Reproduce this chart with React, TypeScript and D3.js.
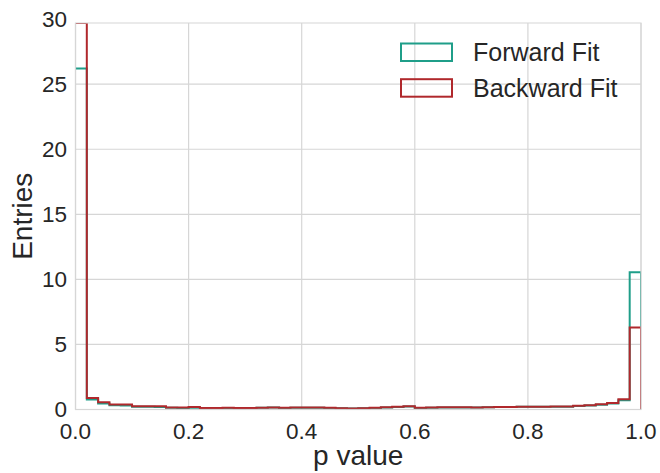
import React from "react";
import * as d3 from "d3";

// Histogram of fit p-values, 50 bins of width 0.02 over [0, 1]
const binEdges: number[] = Array.from({ length: 51 }, (_, i) => i / 50);

const forwardCounts: number[] = [
  26.2, 0.77, 0.46, 0.33, 0.3, 0.22, 0.22, 0.2, 0.14, 0.12,
  0.13, 0.1, 0.11, 0.12, 0.1, 0.11, 0.13, 0.15, 0.12, 0.14,
  0.13, 0.14, 0.12, 0.09, 0.08, 0.09, 0.12, 0.15, 0.2, 0.23,
  0.12, 0.13, 0.16, 0.15, 0.16, 0.15, 0.17, 0.19, 0.19, 0.21,
  0.21, 0.21, 0.22, 0.22, 0.26, 0.31, 0.37, 0.47, 0.72, 10.55,
];

const backwardCounts: number[] = [
  29.7, 0.89, 0.56, 0.38, 0.38, 0.25, 0.25, 0.25, 0.15, 0.15,
  0.2, 0.12, 0.12, 0.14, 0.12, 0.12, 0.14, 0.16, 0.14, 0.16,
  0.15, 0.15, 0.13, 0.1, 0.08, 0.1, 0.13, 0.17, 0.22, 0.25,
  0.14, 0.15, 0.18, 0.17, 0.17, 0.16, 0.18, 0.2, 0.2, 0.22,
  0.22, 0.22, 0.23, 0.23, 0.28, 0.33, 0.4, 0.5, 0.78, 6.3,
];

const xTicks: number[] = [0, 0.2, 0.4, 0.6, 0.8, 1.0];
const yTicks: number[] = [0, 5, 10, 15, 20, 25, 30];

const seriesNames: string[] = ["Forward Fit", "Backward Fit"];
const seriesColors: string[] = ["#1f9e89", "#b0282c"];

const W = 660;
const H = 473;
const plot = { left: 75.5, right: 641, top: 23, bottom: 409.5 };
const yMax = 29.7;

const FONT = "'Liberation Sans', Arial, sans-serif";
const TEXT = "#262626";
const GRID = "#d6d6d6";

// Step outline of a histogram: opens at the top of the first bin and
// closes down to the baseline at the right edge.
function stepPath(
  counts: number[],
  x: d3.ScaleLinear<number, number>,
  y: d3.ScaleLinear<number, number>
): string {
  const p = d3.path();
  p.moveTo(x(binEdges[0]), y(counts[0]));
  counts.forEach((c, i) => {
    p.lineTo(x(binEdges[i]), y(c));
    p.lineTo(x(binEdges[i + 1]), y(c));
  });
  p.lineTo(x(binEdges[binEdges.length - 1]), y(0));
  return p.toString();
}

export default function App() {
  const x = d3.scaleLinear().domain([0, 1]).range([plot.left, plot.right]);
  const y = d3.scaleLinear().domain([0, yMax]).range([plot.bottom, plot.top]);
  const series = [forwardCounts, backwardCounts];

  return (
    <>
      <style>{"body{margin:0}"}</style>
      <svg width={W} height={H} style={{ display: "block", background: "#fff" }}>
        <defs>
          <clipPath id="plotClip">
            <rect
              x={plot.left}
              y={plot.top}
              width={plot.right - plot.left}
              height={plot.bottom - plot.top}
            />
          </clipPath>
        </defs>

        {/* grid */}
        {xTicks.map((t) => (
          <line
            key={"gx" + t}
            x1={x(t)}
            x2={x(t)}
            y1={plot.top}
            y2={plot.bottom}
            stroke={GRID}
            strokeWidth={1.2}
          />
        ))}
        {yTicks
          .filter((t) => t <= yMax)
          .map((t) => (
            <line
              key={"gy" + t}
              x1={plot.left}
              x2={plot.right}
              y1={y(t)}
              y2={y(t)}
              stroke={GRID}
              strokeWidth={1.2}
            />
          ))}

        {/* histograms */}
        <g clipPath="url(#plotClip)">
          {series.map((counts, i) => (
            <path
              key={seriesNames[i]}
              d={stepPath(counts, x, y)}
              fill="none"
              stroke={seriesColors[i]}
              strokeWidth={2}
              strokeLinejoin="miter"
            />
          ))}
        </g>

        {/* frame */}
        <rect
          x={plot.left}
          y={plot.top}
          width={plot.right - plot.left}
          height={plot.bottom - plot.top}
          fill="none"
          stroke={GRID}
          strokeWidth={1.2}
          strokeOpacity={0.85}
        />

        {/* tick labels */}
        {xTicks.map((t) => (
          <text
            key={"tx" + t}
            x={x(t)}
            y={438.5}
            textAnchor="middle"
            fontFamily={FONT}
            fontSize={22.5}
            fill={TEXT}
          >
            {d3.format(".1f")(t)}
          </text>
        ))}
        {yTicks.map((t) => (
          <text
            key={"ty" + t}
            x={67}
            y={y(t)}
            dy="0.34em"
            textAnchor="end"
            fontFamily={FONT}
            fontSize={22.5}
            fill={TEXT}
          >
            {t}
          </text>
        ))}

        {/* axis titles */}
        <text
          x={(plot.left + plot.right) / 2}
          y={465}
          textAnchor="middle"
          fontFamily={FONT}
          fontSize={28}
          fill={TEXT}
        >
          p value
        </text>
        <text
          transform={`translate(32,${(plot.top + plot.bottom) / 2}) rotate(-90)`}
          textAnchor="middle"
          fontFamily={FONT}
          fontSize={28}
          fill={TEXT}
        >
          Entries
        </text>

        {/* legend */}
        {seriesNames.map((name, i) => (
          <g key={"lg" + name} transform={`translate(0,${i * 35.7})`}>
            <rect
              x={401}
              y={43.5}
              width={51}
              height={17.5}
              fill="none"
              stroke={seriesColors[i]}
              strokeWidth={2}
            />
            <text
              x={473}
              y={52.2}
              dy="0.36em"
              fontFamily={FONT}
              fontSize={25}
              fill={TEXT}
            >
              {name}
            </text>
          </g>
        ))}
      </svg>
    </>
  );
}
